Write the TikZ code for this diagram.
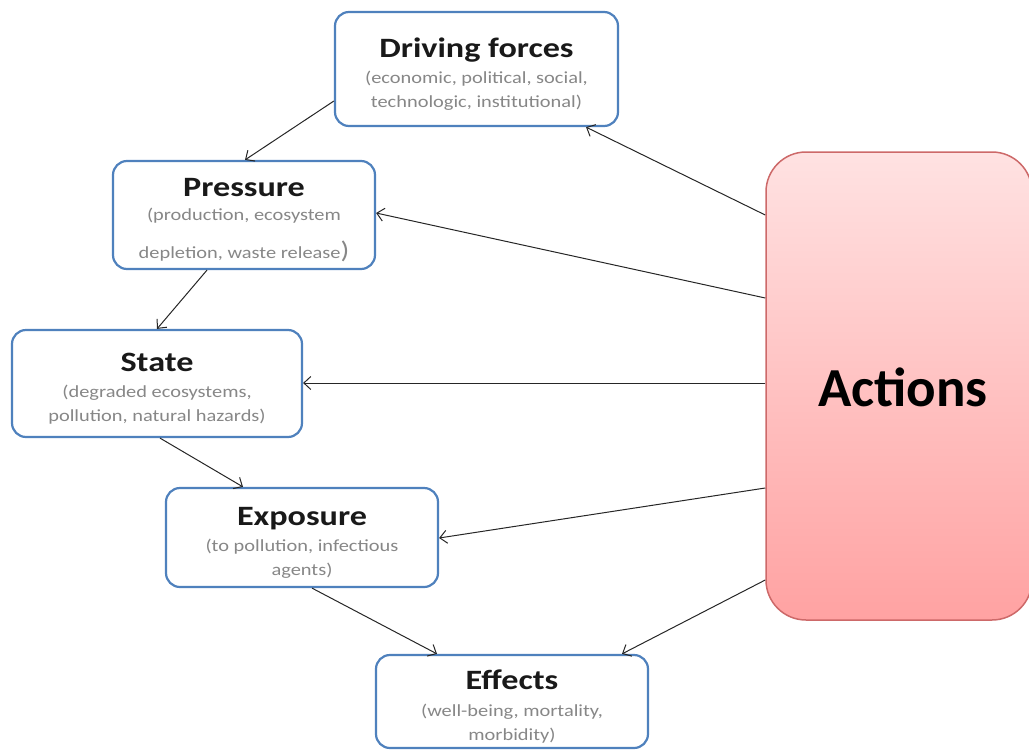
\documentclass[tikz,border=0pt]{standalone}
\usepackage{fontspec}
\usepackage{graphicx}
\setmainfont{Carlito}
\usetikzlibrary{arrows.meta,calc}
\definecolor{boxblue}{RGB}{79,129,189}
\definecolor{subgray}{RGB}{135,135,135}
\definecolor{actborder}{RGB}{205,105,105}
\definecolor{acttop}{RGB}{255,226,226}
\definecolor{actbot}{RGB}{255,162,162}
\newcommand{\ttl}[1]{\rule{0pt}{29pt}\scalebox{1.22}[1]{\fontsize{28}{30}\selectfont\bfseries\color{black!90}#1}}
\newcommand{\sbt}[1]{\scalebox{1.2}[1]{\color{subgray}#1}}
\tikzset{
  dbox/.style={draw=boxblue, line width=2.2pt, rounded corners=14pt, fill=white,
    align=center, inner sep=0pt, font=\fontsize{17}{24}\selectfont},
  conn/.style={draw=black!85, line width=1pt, -{Straight Barb[length=7pt,width=13pt,line width=1pt]}},
}
\begin{document}
\begin{tikzpicture}[x=1pt,y=-1pt]
\useasboundingbox (0,0) rectangle (1029,750);
\clip (0,0) rectangle (1029,750);

\node[draw=actborder, line width=1.5pt, rounded corners=40pt, top color=acttop, bottom color=actbot,
  minimum width=266pt, minimum height=468pt, inner sep=0pt] (act) at (899,386) {};
\node[font=\fontsize{55}{60}\selectfont\bfseries] (acttxt) at (903,387) {Actions};

\node[dbox, minimum width=283pt, minimum height=114pt] (df) at (476.5,69)
  {\ttl{Driving forces}\\[2pt]\sbt{(economic, political, social,}\\\sbt{technologic, institutional)}};
\node[dbox, minimum width=262pt, minimum height=108pt] (pr) at (244,215)
  {\ttl{Pressure}\\[0pt]\sbt{(production, ecosystem}\\[14pt]\sbt{depletion, waste release{\fontsize{24}{24}\selectfont)}}};
\node[dbox, minimum width=290pt, minimum height=107pt] (st) at (157,383.5)
  {\ttl{State}\\[2pt]\sbt{(degraded ecosystems,}\\\sbt{pollution, natural hazards)}};
\node[dbox, minimum width=272pt, minimum height=99pt] (ex) at (302,537.5)
  {\ttl{Exposure}\\[2pt]\sbt{(to pollution, infectious}\\\sbt{agents)}};
\node[dbox, minimum width=272pt, minimum height=93pt] (ef) at (512,701.5)
  {\ttl{Effects}\\[3pt]\sbt{(well-being, mortality,}\\\sbt{morbidity)}};

\draw[conn] (df.west |- 0,101) -- (pr.north -| 245,0);
\draw[conn] (pr.south -| 207,0) -- (st.north -| 157,0);
\draw[conn] (st.south -| 160,0) -- (ex.north -| 243,0);
\draw[conn] (ex.south -| 312,0) -- (ef.north -| 437,0);

\draw[conn] (act.west |- 0,215) -- (df.south -| 586,0);
\draw[conn] (act.west |- 0,298) -- (pr.east |- 0,213);
\draw[conn] (act.west |- 0,383) -- (st.east |- 0,383);
\draw[conn] (act.west |- 0,488) -- (ex.east |- 0,538);
\draw[conn] (act.west |- 0,580) -- (ef.north -| 622,0);
\end{tikzpicture}
\end{document}
